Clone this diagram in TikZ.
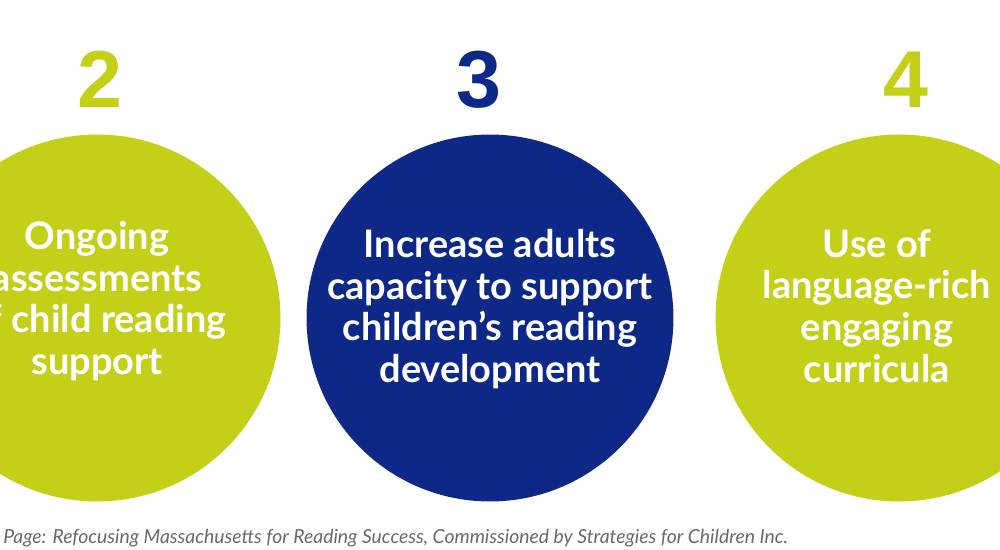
\documentclass[tikz,border=0pt]{standalone}
\usepackage{fontspec}
\setmainfont{Lato}
\newfontfamily\numfont{Liberation Sans}
\usepackage{tikz}
\usetikzlibrary{positioning}
\definecolor{mylime}{RGB}{196,207,24}
\definecolor{mynavy}{RGB}{14,40,135}
\definecolor{mygray}{RGB}{105,105,105}
\tikzset{
  limedisc/.style={circle, fill=mylime, minimum size=7.34cm, inner sep=0pt},
  navydisc/.style={circle, fill=mynavy, minimum size=7.34cm, inner sep=0pt},
  disctext/.style={text=white, align=center, inner sep=0pt,
    font=\fontsize{21.6}{23.7}\selectfont\bfseries},
  limenum/.style={text=mylime, anchor=base, inner sep=0pt,
    font=\numfont\fontsize{46}{46}\selectfont\bfseries},
  navynum/.style={text=mynavy, anchor=base, inner sep=0pt,
    font=\numfont\fontsize{46}{46}\selectfont\bfseries},
  source/.style={text=mygray, anchor=base west, inner sep=0pt,
    font=\fontsize{11}{13}\selectfont\itshape}
}

\begin{document}
\begin{tikzpicture}[x=0.02cm, y=-0.02cm]
  \clip (0,0) rectangle (1000,550);
  \node[limedisc] (c2) at (97,318) {};
  \node[navydisc] (c3) at (490,318) {};
  \node[limedisc] (c4) at (899,318) {};
  \node[limenum] (n2) at (100,108) {2};
  \node[navynum] (n3) at (479,108) {3};
  \node[limenum] (n4) at (906,108) {4};
  \node[disctext] (t2) at (97,301) {Ongoing\\assessments\\of child reading\\support};
  \node[disctext] (t3) at (490,309) {Increase adults\\capacity to support\\children’s reading\\development};
  \node[disctext] (t4) at (877,306) {Use of\\language-rich\\engaging\\curricula};
  \node[source] (src) at (3,543) {Page: Refocusing Massachusetts for Reading Success, Commissioned by Strategies for Children Inc.};
\end{tikzpicture}
\end{document}
